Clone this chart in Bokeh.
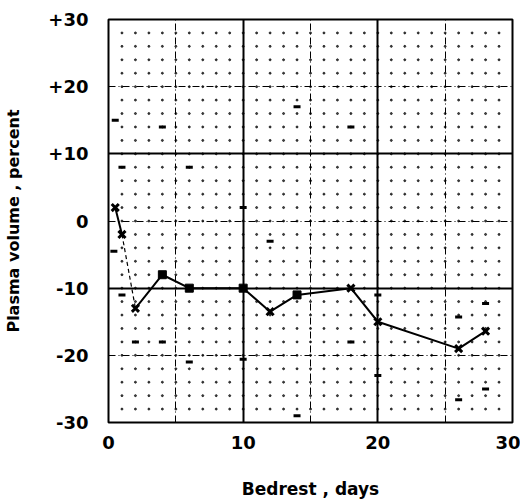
import numpy as np
from bokeh.plotting import figure
from bokeh.models import FixedTicker, Grid, Range1d
from bokeh.embed import file_html
from bokeh.resources import INLINE

# Mean plasma volume change
days = [0.5, 1, 2, 4, 6, 10, 12, 14, 18, 20, 26, 28]
plasma = [2, -2, -13, -8, -10, -10, -13.5, -11, -10, -15, -19, -16.4]
x_mark = [True, True, True, False, False, False, True, False, True, True, True, True]

# Individual extremes (range marks)
range_days = [0.5, 0.4, 1, 1, 2, 4, 4, 6, 6, 10, 10, 12, 14, 14, 18, 18, 20, 20, 26, 26, 28, 28]
range_vals = [15, -4.5, 8, -11, -18, 14, -18, 8, -21, 2, -20.6, -3, 17, -29, 14, -18, -11, -23, -14.3, -26.6, -12.3, -25]

x_ticks = [0, 10, 20, 30]
y_ticks = [-30, -20, -10, 0, 10, 20, 30]
y_tick_labels = {30: "+30", 20: "+20", 10: "+10", 0: "0", -10: "-10", -20: "-20", -30: "-30"}

FONT = "DejaVu Sans"

p = figure(frame_width=404, frame_height=403, output_backend="svg", toolbar_location=None,
           x_range=Range1d(0, 30), y_range=Range1d(-30, 30),
           min_border_left=108, min_border_top=19, min_border_right=8, min_border_bottom=66)
p.background_fill_color = "white"
p.border_fill_color = "white"
p.outline_line_color = "black"
p.outline_line_width = 2
p.outline_line_alpha = 1

# default grids off
p.xgrid.visible = False
p.ygrid.visible = False

# dotted grid of points
gx, gy = np.meshgrid(np.arange(1, 30, 1), np.arange(-28, 29, 2))
p.scatter(gx.ravel(), gy.ravel(), size=2, color="black", alpha=0.7)

# dash-dot grid
for dim, ticks in ((0, [5, 15, 25]), (1, [-20, 0, 20])):
    g = Grid(dimension=dim, ticker=FixedTicker(ticks=ticks),
             grid_line_color="black", grid_line_width=1, grid_line_dash="7 3 1 3")
    p.add_layout(g)
# solid grid
for dim, ticks in ((0, [10, 20]), (1, [-10, 10])):
    g = Grid(dimension=dim, ticker=FixedTicker(ticks=ticks),
             grid_line_color="black", grid_line_width=2)
    p.add_layout(g)

# range marks
p.scatter(range_days, range_vals, marker="dash", size=7, line_width=3, color="black")

# mean line
p.line(days[0:2], plasma[0:2], line_color="black", line_width=2)
p.line(days[1:3], plasma[1:3], line_color="black", line_width=1.2, line_dash="4 3")
p.line(days[2:], plasma[2:], line_color="black", line_width=2)

xd = [d for d, m in zip(days, x_mark) if m]
xv = [v for v, m in zip(plasma, x_mark) if m]
sd = [d for d, m in zip(days, x_mark) if not m]
sv = [v for v, m in zip(plasma, x_mark) if not m]
p.scatter(xd, xv, marker="x", size=10, line_width=3, color="black")
p.scatter(sd, sv, marker="square", size=8, color="black")

# axes
p.xaxis.ticker = FixedTicker(ticks=x_ticks)
p.yaxis.ticker = FixedTicker(ticks=y_ticks)
p.yaxis.major_label_overrides = y_tick_labels
for ax in (p.xaxis[0], p.yaxis[0]):
    ax.axis_line_color = None
    ax.major_tick_line_color = None
    ax.minor_tick_line_color = None
    ax.major_label_text_font = FONT
    ax.major_label_text_font_style = "bold"
    ax.major_label_text_font_size = "18px"
    ax.major_label_text_color = "black"
    ax.axis_label_text_font = FONT
    ax.axis_label_text_font_style = "bold"
    ax.axis_label_text_color = "black"
p.xaxis.axis_label_text_font_size = "17px"
p.yaxis.axis_label_text_font_size = "16px"
p.xaxis.major_label_standoff = 7
p.yaxis.major_label_standoff = 14
p.xaxis.axis_label = "Bedrest , days"
p.yaxis.axis_label = "Plasma volume , percent"
p.xaxis.axis_label_standoff = 27
p.yaxis.axis_label_standoff = 22

open("out.html", "w").write(file_html(p, INLINE))
